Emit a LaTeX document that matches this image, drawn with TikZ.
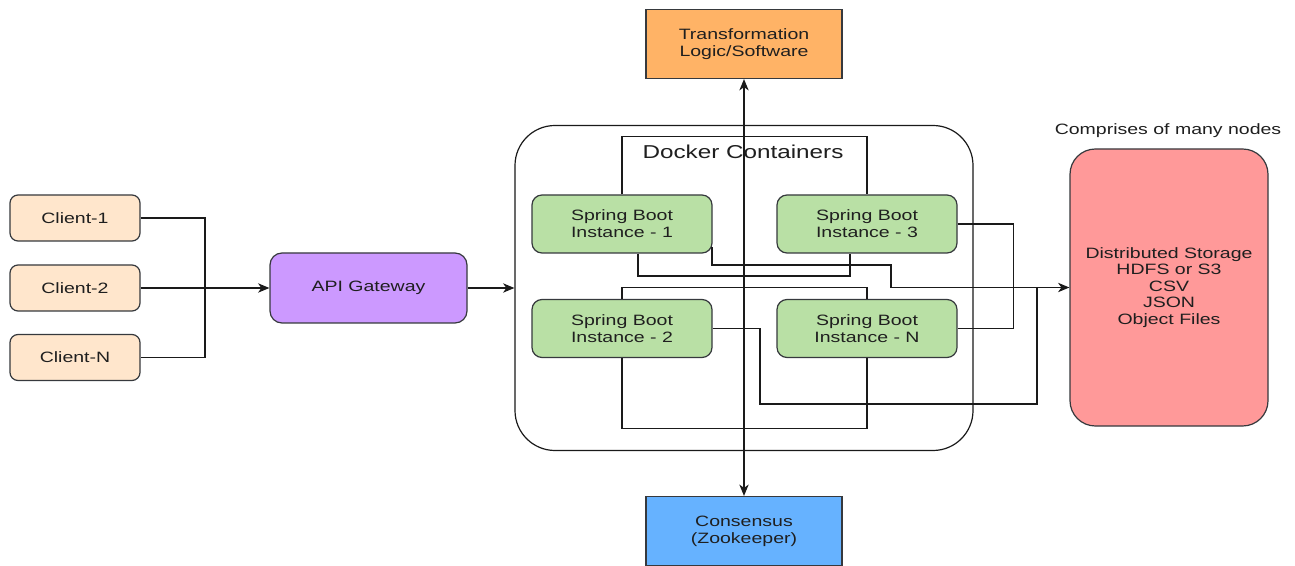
\documentclass[tikz,border=0pt]{standalone}
\usepackage{fontspec}
\setmainfont{Liberation Sans}[FakeStretch=1.3]
\usetikzlibrary{arrows.meta,calc}
\definecolor{clientc}{HTML}{FFE6CC}
\definecolor{apic}{HTML}{CC99FF}
\definecolor{sbc}{HTML}{B9E0A5}
\definecolor{trc}{HTML}{FFB366}
\definecolor{coc}{HTML}{66B2FF}
\definecolor{stc}{HTML}{FF9999}
\definecolor{bordc}{HTML}{36393D}
\definecolor{linec}{HTML}{1A1A1A}
\definecolor{txtc}{HTML}{1F1F1F}
\newcommand\fsmain{\fontsize{11.25pt}{12.75pt}\selectfont}
\newcommand\fsstor{\fontsize{11.25pt}{12.3pt}\selectfont}
\newcommand\fsbig{\fontsize{14pt}{16pt}\selectfont}
\begin{document}
\begin{tikzpicture}[x=0.75pt,y=-0.75pt,
  box/.style={draw=bordc, line width=0.9pt, text=txtc, align=center, inner sep=0pt, font=\fsmain},
  client/.style={box, fill=clientc, rounded corners=6pt, minimum width={130*0.75pt}, minimum height={46*0.75pt}},
  api/.style={box, fill=apic, rounded corners=9pt, minimum width={197*0.75pt}, minimum height={70*0.75pt}},
  sb/.style={box, fill=sbc, rounded corners=7.5pt, minimum width={180*0.75pt}, minimum height={58*0.75pt}},
  sq/.style={box, minimum width={196*0.75pt}, minimum height={69*0.75pt}},
  stor/.style={box, fill=stc, font=\fsstor, rounded corners=19pt, minimum width={198*0.75pt}, minimum height={277*0.75pt}},
  dockbox/.style={draw=linec, line width=0.9pt, fill=white, rounded corners=30pt, minimum width={458*0.75pt}, minimum height={325*0.75pt}},
  ln/.style={draw=linec, line width=0.9pt},
  tip/.tip={Stealth[length=8.5pt,width=7pt,inset=2.5pt]},
  arr/.style={ln, -tip},
  arr2/.style={ln, tip-tip}
]
\useasboundingbox (0,0) rectangle (1295,566);
\fill[white] (0,0) rectangle (1295,566);

% nodes
\node[client] (c1) at (75,218) {Client-1};
\node[client] (c2) at (75,288) {Client-2};
\node[client] (cN) at (75,357.5) {Client-N};
\node[api] (api) at (368.5,288) {API Gateway};
\node[dockbox] (dock) at (744,288) {};
\node[text=txtc, font=\fsbig, inner sep=0pt] (dlab) at (743,152) {Docker Containers};
\node[sb] (sb1) at (622,224) {Spring Boot\\Instance - 1};
\node[sb] (sb3) at (867,224) {Spring Boot\\Instance - 3};
\node[sb] (sb2) at (622,328.5) {Spring Boot\\Instance - 2};
\node[sb] (sbN) at (867,328.5) {Spring Boot\\Instance - N};
\node[sq, fill=trc] (tr) at (744,44) {Transformation\\Logic/Software};
\node[sq, fill=coc] (co) at (744,531) {Consensus\\(Zookeeper)};
\node[stor] (st) at (1169,287.5) {Distributed Storage\\HDFS or S3\\CSV\\JSON\\Object Files};
\node[text=txtc, font=\fsmain, inner sep=0pt] (cm) at (1168,131) {Comprises of many nodes};

% coordinates for bends
\coordinate (j2) at (205,357.5);
\coordinate (a1) at (638,276);
\coordinate (a2) at (850,276);
\coordinate (b1) at (891,265);
\coordinate (d1) at (760,404);
\coordinate (d2) at (1037,288);

% client connectors
\draw[ln] (c1.east) -| (j2) -- (cN.east);
\draw[arr] (c2.east) -- (api.west);
\draw[arr] (api.east) -- (dock.west);

% spring boot connectors
\draw[ln] (sb1.north) -- ++(0,-58) -| (sb3.north);
\draw[ln] (sb1.south -| a1) -- (a1) -- (a2) -- (sb3.south -| a2);
\draw[arr] ([xshift=-0.4pt,yshift=5pt]sb1.south east) |- (b1) |- (st.west);
\draw[ln] (sb2.north) -- ++(0,-11) -| (sbN.north);
\draw[ln] (sb2.south) -- ++(0,70) -| (sbN.south);
\draw[ln] (sb2.east) -| (d1) -| (d2);
\draw[ln] (sb3.east) -- ++(56,0) |- (sbN.east);

% vertical connector
\draw[arr2] (tr.south) -- (co.north);
\end{tikzpicture}
\end{document}
